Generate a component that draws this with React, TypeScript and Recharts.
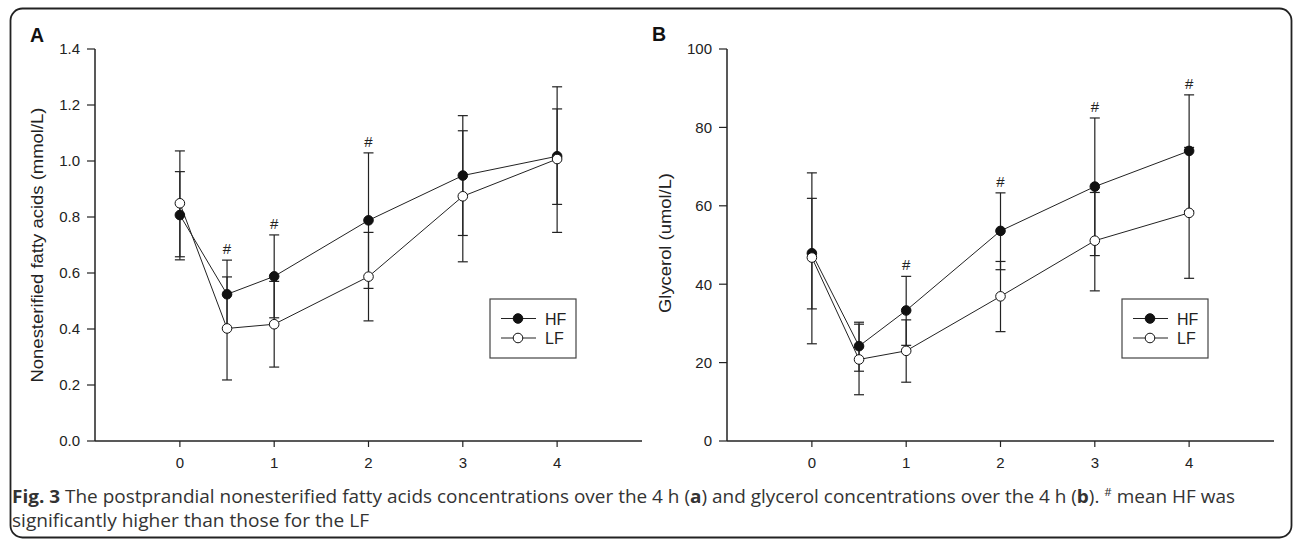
import React from 'react';
import { ComposedChart, Line, XAxis, YAxis, ErrorBar, Scatter } from 'recharts';

// ---- data ----
const timePoints = [0, 0.5, 1, 2, 3, 4];
const xTicks = [0, 1, 2, 3, 4];

// Panel A: nonesterified fatty acids (mmol/L)
const nefaHF = [0.807, 0.524, 0.588, 0.788, 0.948, 1.017];
const nefaHFUp = [0.155, 0.122, 0.148, 0.241, 0.214, 0.248];
const nefaHFDown = [0.16, 0.122, 0.148, 0.243, 0.214, 0.272];
const nefaLF = [0.849, 0.402, 0.417, 0.587, 0.874, 1.007];
const nefaLFUp = [0.187, 0.184, 0.153, 0.158, 0.234, 0.179];
const nefaLFDown = [0.191, 0.184, 0.153, 0.158, 0.234, 0.162];
const nefaSig = [false, true, true, true, false, false];
const nefaTicks = [0, 0.2, 0.4, 0.6, 0.8, 1.0, 1.2, 1.4];

// Panel B: glycerol (umol/L)
const glyHF = [47.9, 24.2, 33.3, 53.6, 64.9, 74.0];
const glyHFUp = [14.0, 6.1, 8.7, 9.7, 17.5, 14.3];
const glyHFDown = [14.2, 6.4, 8.9, 9.9, 17.6, 15.3];
const glyLF = [46.8, 20.8, 23.0, 36.9, 51.1, 58.2];
const glyLFUp = [21.6, 9.0, 7.9, 8.9, 12.3, 16.7];
const glyLFDown = [22.0, 9.0, 8.0, 9.0, 12.8, 16.7];
const glySig = [false, false, true, true, true, true];
const glyTicks = [0, 20, 40, 60, 80, 100];

const seriesNames = ['HF', 'LF'];

function buildRows(hf, hfUp, hfDown, lf, lfUp, lfDown) {
  return timePoints.map((t, i) => ({
    t,
    hf: hf[i],
    lf: lf[i],
    hfErr: [hfDown[i], hfUp[i]],
    lfErr: [lfDown[i], lfUp[i]],
  }));
}

function buildSig(flags, hf, hfUp, lf, lfUp) {
  return timePoints.flatMap((t, i) =>
    flags[i] ? [{ t, top: Math.max(hf[i] + hfUp[i], lf[i] + lfUp[i]) }] : []
  );
}

const nefaRows = buildRows(nefaHF, nefaHFUp, nefaHFDown, nefaLF, nefaLFUp, nefaLFDown);
const nefaSigRows = buildSig(nefaSig, nefaHF, nefaHFUp, nefaLF, nefaLFUp);
const glyRows = buildRows(glyHF, glyHFUp, glyHFDown, glyLF, glyLFUp, glyLFDown);
const glySigRows = buildSig(glySig, glyHF, glyHFUp, glyLF, glyLFUp);

const INK = '#222';
const FONT = '"Liberation Sans", Arial, sans-serif';
const CAPTION_FONT = '"Open Sans", "Noto Sans", sans-serif';
const TICK_SIZE = 15;

const HashShape = (props: any) => {
  const { cx, cy } = props;
  if (cx == null || cy == null) return null;
  return (
    <text x={cx} y={cy - 6} textAnchor="middle" fontSize={15} fill={INK} fontFamily={FONT}>
      #
    </text>
  );
};

const XTick = (props: any) => {
  const { x, y, payload } = props;
  return (
    <text x={x} y={y + TICK_SIZE * 0.72} textAnchor="middle" fontSize={TICK_SIZE} fill={INK} fontFamily={FONT}>
      {String(payload.value)}
    </text>
  );
};

const makeYTick = (fmt) => (props: any) => {
  const { x, y, payload } = props;
  return (
    <text x={x} y={y + TICK_SIZE * 0.36} textAnchor="end" fontSize={TICK_SIZE} fill={INK} fontFamily={FONT}>
      {fmt(payload.value)}
    </text>
  );
};

function Panel({ rows, sigRows, domain, ticks, fmt }) {
  return (
    <ComposedChart
      width={650}
      height={480}
      data={rows}
      margin={{ top: 49, right: 8, bottom: 9, left: 35 }}
      style={{ fontFamily: FONT }}
    >
      <XAxis
        dataKey="t"
        type="number"
        domain={[-0.9, 4.9]}
        ticks={xTicks}
        allowDataOverflow
        height={30}
        tickSize={6}
        tickMargin={10}
        axisLine={{ stroke: INK, strokeWidth: 1.5 }}
        tickLine={{ stroke: INK, strokeWidth: 1.2 }}
        tick={XTick}
      />
      <YAxis
        type="number"
        domain={domain}
        ticks={ticks}
        allowDataOverflow
        width={60}
        tickSize={8}
        tickMargin={7}
        axisLine={{ stroke: INK, strokeWidth: 1.5 }}
        tickLine={{ stroke: INK, strokeWidth: 1.2 }}
        tick={makeYTick(fmt)}
      />
      <Line dataKey="hf" stroke="none" dot={false} isAnimationActive={false} legendType="none">
        <ErrorBar dataKey="hfErr" direction="y" width={5} stroke={INK} strokeWidth={1.2} />
      </Line>
      <Line dataKey="lf" stroke="none" dot={false} isAnimationActive={false} legendType="none">
        <ErrorBar dataKey="lfErr" direction="y" width={5} stroke={INK} strokeWidth={1.2} />
      </Line>
      <Line
        dataKey="hf"
        name={seriesNames[0]}
        stroke={INK}
        strokeWidth={1}
        dot={{ r: 4.8, fill: '#111', stroke: '#111', strokeWidth: 1 }}
        activeDot={false}
        isAnimationActive={false}
      />
      <Line
        dataKey="lf"
        name={seriesNames[1]}
        stroke={INK}
        strokeWidth={1}
        dot={{ r: 4.8, fill: '#fff', stroke: '#111', strokeWidth: 1 }}
        activeDot={false}
        isAnimationActive={false}
      />
      <Scatter data={sigRows} dataKey="top" shape={HashShape} isAnimationActive={false} />
    </ComposedChart>
  );
}

function LegendBox({ x, y }) {
  return (
    <g>
      <rect x={x} y={y} width={86} height={59} fill="#fff" stroke="#444" strokeWidth={1.2} />
      <line x1={x + 11} x2={x + 46} y1={y + 19.5} y2={y + 19.5} stroke={INK} strokeWidth={1} />
      <circle cx={x + 28} cy={y + 19.5} r={4.8} fill="#111" stroke="#111" />
      <text x={x + 55} y={y + 25.5} fontSize={16} fill={INK} fontFamily={FONT}>{seriesNames[0]}</text>
      <line x1={x + 11} x2={x + 46} y1={y + 39} y2={y + 39} stroke={INK} strokeWidth={1} />
      <circle cx={x + 28} cy={y + 39} r={4.8} fill="#fff" stroke="#111" />
      <text x={x + 55} y={y + 45} fontSize={16} fill={INK} fontFamily={FONT}>{seriesNames[1]}</text>
    </g>
  );
}

export default function App() {
  return (
    <div style={{ position: 'absolute', left: 0, top: 0, width: 1293, height: 540, background: '#fff' }}>
      <svg width={1293} height={540} style={{ position: 'absolute', left: 0, top: 0 }}>
        <rect x={10.5} y={8.5} width={1281} height={529} rx={12} ry={12} fill="none" stroke="#222" strokeWidth={1.8} />
        <text x={30} y={42} fontSize={19.5} fontWeight="bold" fill="#111" fontFamily={FONT}>A</text>
        <text x={652} y={40.5} fontSize={19.5} fontWeight="bold" fill="#111" fontFamily={FONT}>B</text>
        <text
          x={43}
          y={245}
          transform="rotate(-90 43 245)"
          textAnchor="middle"
          fontSize={16.5}
          fill={INK}
          fontFamily={FONT}
          textLength={275}
          lengthAdjust="spacingAndGlyphs"
        >
          Nonesterified fatty acids (mmol/L)
        </text>
        <text
          x={671}
          y={243}
          transform="rotate(-90 671 243)"
          textAnchor="middle"
          fontSize={16.5}
          fill={INK}
          fontFamily={FONT}
          textLength={140}
          lengthAdjust="spacingAndGlyphs"
        >
          Glycerol (umol/L)
        </text>
        <text x={12} y={503} fontSize={18} fill="#333" fontFamily={CAPTION_FONT} textLength={1223} lengthAdjust="spacingAndGlyphs">
          <tspan fontWeight="bold">Fig. 3</tspan>
          <tspan>{' The postprandial nonesterified fatty acids concentrations over the 4 h ('}</tspan>
          <tspan fontWeight="bold">a</tspan>
          <tspan>{') and glycerol concentrations over the 4 h ('}</tspan>
          <tspan fontWeight="bold">b</tspan>
          <tspan>{'). '}</tspan>
          <tspan dy={-7} fontSize={11}>#</tspan>
          <tspan dy={7}>{' mean HF was'}</tspan>
        </text>
        <text x={12} y={527} fontSize={18} fill="#333" fontFamily={CAPTION_FONT} textLength={357} lengthAdjust="spacingAndGlyphs">
          significantly higher than those for the LF
        </text>
      </svg>
      <div style={{ position: 'absolute', left: 0, top: 0 }}>
        <Panel rows={nefaRows} sigRows={nefaSigRows} domain={[0, 1.4]} ticks={nefaTicks} fmt={(v) => v.toFixed(1)} />
      </div>
      <div style={{ position: 'absolute', left: 632, top: 0 }}>
        <Panel rows={glyRows} sigRows={glySigRows} domain={[0, 100]} ticks={glyTicks} fmt={(v) => String(v)} />
      </div>
      <svg width={1293} height={540} style={{ position: 'absolute', left: 0, top: 0, pointerEvents: 'none' }}>
        <LegendBox x={490} y={299} />
        <LegendBox x={1122} y={299} />
      </svg>
    </div>
  );
}
